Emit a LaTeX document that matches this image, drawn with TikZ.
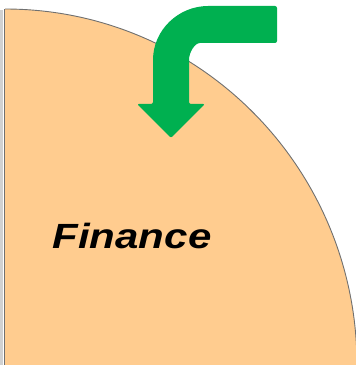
\documentclass[tikz,border=0pt]{standalone}
\usepackage{fontspec}
\setmainfont{Liberation Sans}
\usepackage{graphicx}
\definecolor{peach}{HTML}{FFCC8F}
\definecolor{arrowgreen}{HTML}{00B050}
\definecolor{edgegray}{HTML}{707070}
\begin{document}
\begin{tikzpicture}[x=1pt,y=1pt,
  region/.style={fill=peach},
  arcline/.style={draw=edgegray,line width=0.9pt},
  bentarrow/.style={fill=arrowgreen,rounded corners=2pt},
  label/.style={font=\fontsize{35}{42}\selectfont\bfseries\itshape,text=black,inner sep=0pt}]
\useasboundingbox (0,0) rectangle (356,365);
% quarter ellipse region
\fill[region] (5,0) -- (5,356) arc[start angle=90,end angle=0,x radius=352pt,y radius=356pt] -- cycle;
\draw[arcline] (5,356) arc[start angle=90,end angle=0,x radius=352pt,y radius=356pt];
% left edge
\draw[draw=black!18,line width=3pt] (1.5,0) -- (1.5,355);
\draw[draw=edgegray,line width=1pt] (4,0) -- (4,356);
% bent arrow
\fill[bentarrow] (277,359) -- (210,359)
  .. controls (178.5,359) and (153,335) .. (153,303)
  -- (153,261) -- (137,261) -- (171,227) -- (205,261) -- (189,261) -- (189,303)
  .. controls (189,313) and (195,322) .. (202,322) -- (277,322) -- cycle;
% label
\node[label,anchor=base] (fin) at (132,116) {\scalebox{1.2}[1]{Finance}};
\end{tikzpicture}
\end{document}
